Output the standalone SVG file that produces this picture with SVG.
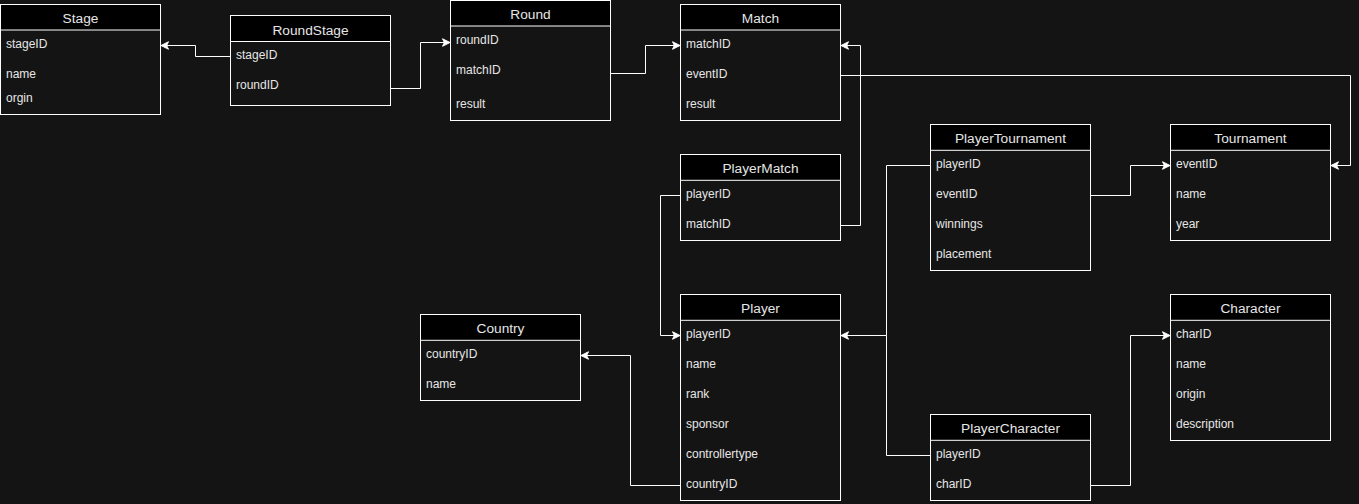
<svg xmlns="http://www.w3.org/2000/svg" width="1359" height="504" viewBox="0 0 1359 504">
<style>
.bg{fill:#141414}
.box{fill:#141414;stroke:#ffffff;stroke-width:1}
.hdr{fill:#000000;stroke:#ffffff;stroke-width:1}
.title{font-family:"Liberation Sans",Arial,sans-serif;font-size:13.7px;font-weight:400;fill:#e6e6e6;text-anchor:middle}
.row{font-family:"Liberation Sans",Arial,sans-serif;font-size:12px;font-weight:400;fill:#e6e6e6}
.edge{fill:none;stroke:#ffffff;stroke-width:1;marker-end:url(#arr)}
.edge2{fill:none;stroke:#ffffff;stroke-width:1}
</style>
<defs>
<marker id="arr" markerUnits="userSpaceOnUse" viewBox="-8 -5 9 10" refX="0" refY="0" markerWidth="9" markerHeight="10" orient="auto" overflow="visible">
<path d="M0,0 L-7.5,-3.75 L-5.6,0 L-7.5,3.75 Z" fill="#ffffff" stroke="#ffffff" stroke-width="1"/>
</marker>
</defs>
<rect class="bg" x="0" y="0" width="1359" height="504"/>

<g id="connectors">
<path class="edge" d="M230.5,56.5 H195.5 V45.5 H161"/>
<path class="edge" d="M390.5,88.5 H420.5 V42.5 H450"/>
<path class="edge" d="M610.5,73.5 H645.5 V45.5 H680"/>
<path class="edge" d="M840.5,75.5 H1350.5 V165.5 H1331"/>
<path class="edge" d="M840.5,225.5 H860.5 V45.5 H841"/>
<path class="edge" d="M680.5,195.5 H660.5 V335.5 H680"/>
<path class="edge" d="M930.5,165.5 H886.5 V335.5 H841"/>
<path class="edge2" d="M930.5,455.5 H886.5 V335.5"/>
<path class="edge" d="M1090.5,195.5 H1130.5 V165.5 H1170"/>
<path class="edge" d="M1090.5,485.5 H1130.5 V335.5 H1170"/>
<path class="edge" d="M680.5,485.5 H630.5 V355.5 H581"/>
</g>

<g id="Stage">
<rect class="box" x="0.5" y="4.5" width="160" height="110"/>
<rect class="hdr" x="0.5" y="4.5" width="160" height="25.5"/>
<text class="title" x="80.5" y="23.3">Stage</text>
<text class="row" x="6" y="48">stageID</text>
<text class="row" x="6" y="77.5">name</text>
<text class="row" x="6" y="101.5">orgin</text>
</g>

<g id="RoundStage">
<rect class="box" x="230.5" y="15.5" width="160" height="90"/>
<rect class="hdr" x="230.5" y="15.5" width="160" height="26"/>
<text class="title" x="310.5" y="34.5">RoundStage</text>
<text class="row" x="236" y="59.3">stageID</text>
<text class="row" x="236" y="88.7">roundID</text>
</g>

<g id="Round">
<rect class="box" x="450.5" y="0.5" width="160" height="120"/>
<rect class="hdr" x="450.5" y="0.5" width="160" height="25.5"/>
<text class="title" x="530.5" y="18.9">Round</text>
<text class="row" x="456" y="44">roundID</text>
<text class="row" x="456" y="74">matchID</text>
<text class="row" x="456" y="108">result</text>
</g>

<g id="Match">
<rect class="box" x="680.5" y="4.5" width="160" height="116"/>
<rect class="hdr" x="680.5" y="4.5" width="160" height="25.5"/>
<text class="title" x="760.5" y="23.3">Match</text>
<text class="row" x="686" y="48">matchID</text>
<text class="row" x="686" y="78">eventID</text>
<text class="row" x="686" y="108">result</text>
</g>

<g id="PlayerMatch">
<rect class="box" x="680.5" y="154.5" width="160" height="86"/>
<rect class="hdr" x="680.5" y="154.5" width="160" height="25.8"/>
<text class="title" x="760.5" y="173.3">PlayerMatch</text>
<text class="row" x="686" y="198">playerID</text>
<text class="row" x="686" y="228">matchID</text>
</g>

<g id="PlayerTournament">
<rect class="box" x="930.5" y="124.5" width="160" height="146"/>
<rect class="hdr" x="930.5" y="124.5" width="160" height="25.8"/>
<text class="title" x="1010.5" y="143.3">PlayerTournament</text>
<text class="row" x="936" y="168">playerID</text>
<text class="row" x="936" y="198">eventID</text>
<text class="row" x="936" y="228">winnings</text>
<text class="row" x="936" y="258">placement</text>
</g>

<g id="Tournament">
<rect class="box" x="1170.5" y="124.5" width="160" height="116"/>
<rect class="hdr" x="1170.5" y="124.5" width="160" height="25.8"/>
<text class="title" x="1250.5" y="143.3">Tournament</text>
<text class="row" x="1176" y="168">eventID</text>
<text class="row" x="1176" y="198">name</text>
<text class="row" x="1176" y="228">year</text>
</g>

<g id="Player">
<rect class="box" x="680.5" y="294.5" width="160" height="206"/>
<rect class="hdr" x="680.5" y="294.5" width="160" height="25.8"/>
<text class="title" x="760.5" y="313.3">Player</text>
<text class="row" x="686" y="338">playerID</text>
<text class="row" x="686" y="368">name</text>
<text class="row" x="686" y="398">rank</text>
<text class="row" x="686" y="428">sponsor</text>
<text class="row" x="686" y="458">controllertype</text>
<text class="row" x="686" y="488">countryID</text>
</g>

<g id="Country">
<rect class="box" x="420.5" y="314.5" width="160" height="86"/>
<rect class="hdr" x="420.5" y="314.5" width="160" height="25.8"/>
<text class="title" x="500.5" y="333.3">Country</text>
<text class="row" x="426" y="358">countryID</text>
<text class="row" x="426" y="388">name</text>
</g>

<g id="Character">
<rect class="box" x="1170.5" y="294.5" width="160" height="146"/>
<rect class="hdr" x="1170.5" y="294.5" width="160" height="25.8"/>
<text class="title" x="1250.5" y="313.3">Character</text>
<text class="row" x="1176" y="338">charID</text>
<text class="row" x="1176" y="368">name</text>
<text class="row" x="1176" y="398">origin</text>
<text class="row" x="1176" y="428">description</text>
</g>

<g id="PlayerCharacter">
<rect class="box" x="930.5" y="414.5" width="160" height="86"/>
<rect class="hdr" x="930.5" y="414.5" width="160" height="25.8"/>
<text class="title" x="1010.5" y="433.3">PlayerCharacter</text>
<text class="row" x="936" y="458">playerID</text>
<text class="row" x="936" y="488">charID</text>
</g>
</svg>
